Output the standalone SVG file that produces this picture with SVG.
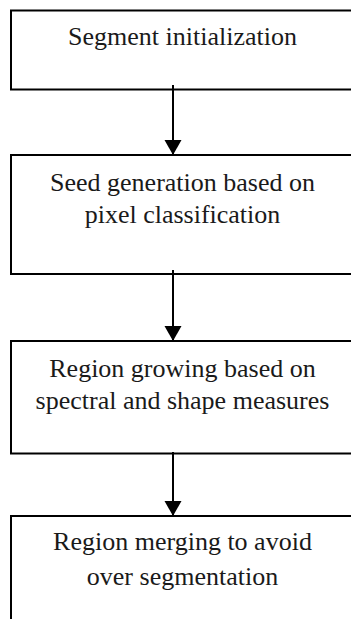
<svg xmlns="http://www.w3.org/2000/svg" width="351" height="619" viewBox="0 0 351 619">
<style>
.box{fill:#fff;stroke:#000;stroke-width:2}
.t{font-size:26px;fill:#1a1a1a;text-anchor:middle}
.c{stroke:#000;stroke-width:2;fill:none}
</style>
<defs>
<marker id="ah" markerUnits="userSpaceOnUse" markerWidth="18" markerHeight="18" refX="15" refY="8.5" orient="auto">
<path d="M0,0 L15,8.5 L0,17 Z" fill="#000"/>
</marker>
</defs>
<rect width="351" height="619" fill="#fff"/>
<g id="n1">
<rect class="box" x="11" y="10.5" width="352" height="79"/>
<text class="t" font-family="'Liberation Serif', 'Times New Roman', serif" x="182.5" y="45">Segment initialization</text>
</g>
<g id="n2">
<rect class="box" x="11" y="155" width="352" height="119"/>
<text class="t" font-family="'Liberation Serif', 'Times New Roman', serif" x="182.5" y="191">Seed generation based on</text>
<text class="t" font-family="'Liberation Serif', 'Times New Roman', serif" x="182.5" y="223">pixel classification</text>
</g>
<g id="n3">
<rect class="box" x="11" y="341" width="352" height="112.5"/>
<text class="t" font-family="'Liberation Serif', 'Times New Roman', serif" x="182.5" y="377">Region growing based on</text>
<text class="t" font-family="'Liberation Serif', 'Times New Roman', serif" x="182.5" y="409">spectral and shape measures</text>
</g>
<g id="n4">
<rect class="box" x="11" y="516" width="352" height="120"/>
<text class="t" font-family="'Liberation Serif', 'Times New Roman', serif" x="182.5" y="550">Region merging to avoid</text>
<text class="t" font-family="'Liberation Serif', 'Times New Roman', serif" x="182.5" y="585">over segmentation</text>
</g>
<g id="connectors">
<line class="c" x1="173" y1="85" x2="173" y2="155" marker-end="url(#ah)"/>
<line class="c" x1="173" y1="270" x2="173" y2="341" marker-end="url(#ah)"/>
<line class="c" x1="173" y1="452" x2="173" y2="516" marker-end="url(#ah)"/>
</g>
</svg>
